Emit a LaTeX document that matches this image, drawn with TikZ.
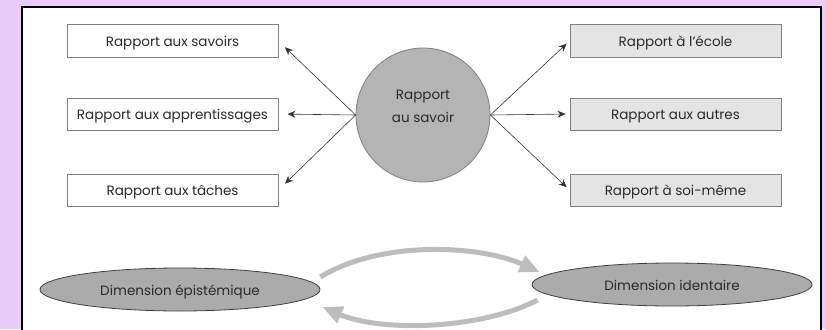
\documentclass[tikz,border=0pt]{standalone}
\usepackage{fontspec}
\setmainfont{Poppins}
\usepackage{tikz}
\usetikzlibrary{shapes.geometric, arrows.meta}

\definecolor{lilac}{HTML}{EACCF8}
\definecolor{boxgray}{HTML}{E4E4E4}
\definecolor{discgray}{HTML}{B4B4B4}
\definecolor{ellgray}{HTML}{ABABAB}
\definecolor{cyclegray}{HTML}{BDBDBD}
\definecolor{inkgray}{HTML}{2A2A2A}

\begin{document}
\begin{tikzpicture}[x=1pt, y=-1pt,
        rapport/.style={draw=gray, line width=1pt, minimum width=211pt, minimum height=32pt,
            inner sep=0pt, text height=11pt, text depth=0pt, text=inkgray, font=\fontsize{13.5}{15}\selectfont},
        leftbox/.style={rapport, fill=white},
        rightbox/.style={rapport, fill=boxgray},
        dimension/.style={ellipse, draw=black!75, line width=0.8pt, fill=ellgray, minimum width=280pt,
            minimum height=43pt, inner sep=0pt, text height=11pt, text depth=0pt, text=inkgray,
            font=\fontsize{13.5}{15}\selectfont},
        link/.style={-{Stealth[length=8pt, width=7pt]}, line width=0.6pt, black!80},
        cycle/.style={-{Triangle[length=20pt, width=17pt]}, line width=5pt, cyclegray}]
            \clip (0,0) rectangle (826,329);
            \fill[lilac] (0,0) rectangle (826,329);
            \draw[line width=2pt, fill=white] (22,7) rectangle (821,345);

            \node[circle, draw=gray, line width=0.8pt, fill=discgray, minimum size=134pt, inner sep=0pt] (rs) at (423,115) {};
            \node[text=inkgray, align=center, font=\fontsize{13.5}{23}\selectfont] (rstext) at (423,106) {Rapport\\au savoir};

            \node[leftbox] (savoirs) at (172.5,41) {Rapport aux savoirs};
            \node[leftbox] (appr) at (172.5,114) {Rapport aux apprentissages};
            \node[leftbox] (taches) at (172.5,190) {Rapport aux t\^aches};

            \node[rightbox] (ecole) at (675.5,41) {Rapport \`a l'\'ecole};
            \node[rightbox] (autres) at (675.5,114) {Rapport aux autres};
            \node[rightbox] (soi) at (675.5,190) {Rapport \`a soi-m\^eme};

            \draw[link, shorten >=9pt] (rs.west) -- (savoirs.east);
            \draw[link, shorten >=9pt] (rs.west) -- (appr.east);
            \draw[link, shorten >=9pt] (rs.west) -- (taches.east);
            \draw[link, shorten >=4pt] (rs.east) -- (ecole.west);
            \draw[link, shorten >=4pt] (rs.east) -- (autres.west);
            \draw[link, shorten >=4pt] (rs.east) -- (soi.west);

            \node[dimension] (epist) at (180,289.5) {Dimension \'epist\'emique};
            \node[dimension] (ident) at (672,284.5) {Dimension identaire};

            \draw[cycle] ([yshift=12.5pt]epist.east) .. controls +(60,-37) and +(-60,-27) .. ([xshift=8pt, yshift=12.5pt]ident.west);
            \draw[cycle] ([xshift=6pt, yshift=-15.5pt]ident.west) .. controls +(-58,30) and +(58,25) .. ([xshift=2pt, yshift=-17.5pt]epist.east);
        \end{tikzpicture}
\end{document}
